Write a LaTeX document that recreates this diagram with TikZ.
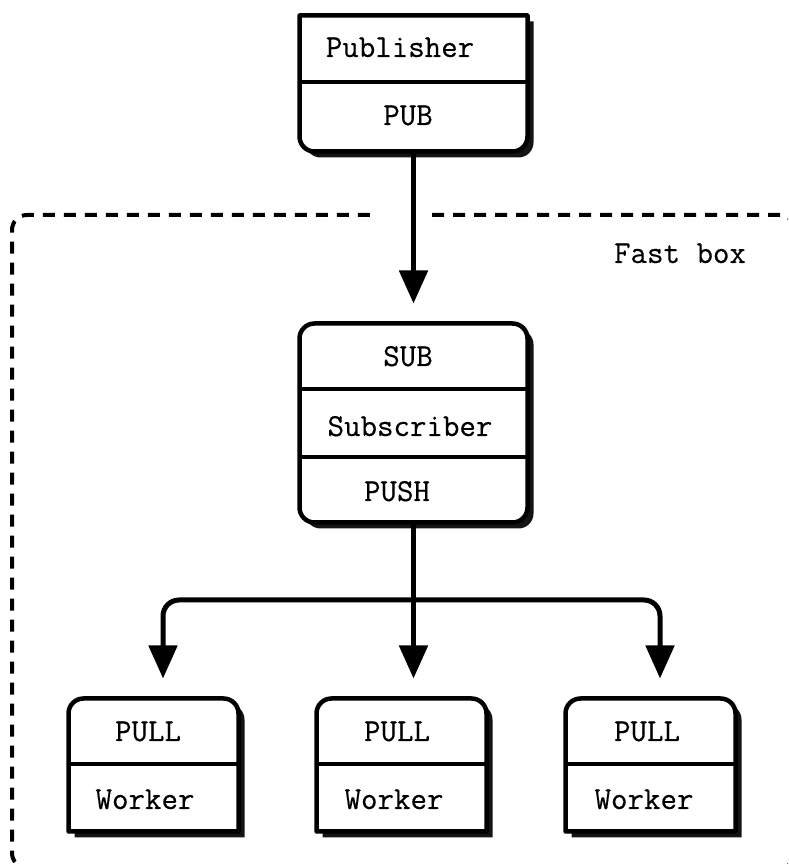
\documentclass[tikz,border=0pt]{standalone}
\usepackage{fontspec}
\newfontfamily\diagmono[FakeBold=0.4]{Latin Modern Mono}
\usetikzlibrary{arrows.meta,calc}
\tikzset{
  boxn/.style={inner sep=0pt, outer sep=0pt, draw=none},
  lbl/.style={anchor=base, inner sep=0pt, font=\fontsize{32}{38}\selectfont\diagmono},
  shadowc/.style={fill=black!92},
  boxc/.style={draw=black, fill=white, line width=4.5pt, line join=round},
  divl/.style={draw=black, line width=4pt},
  arr/.style={draw=black, line width=5pt, -{Triangle[length=33pt,width=28pt]}, shorten >=20pt},
  frame/.style={draw=black, line width=4pt, dash pattern=on 12pt off 9pt, rounded corners=15pt},
}
\newcommand\pubshape[4]{% #1 node, #2 dx, #3 dy, #4 style
  \path[#4] ([xshift=#2,yshift=#3]#1.north west) -- ([xshift=#2,yshift=#3]#1.north east)
    -- ([xshift=#2,yshift=#3+15pt]#1.south east) arc[start angle=0,end angle=-90,radius=15pt]
    -- ([xshift=#2+15pt,yshift=#3]#1.south west) arc[start angle=270,end angle=180,radius=15pt]
    -- cycle;}
\newcommand\workshape[4]{%
  \path[#4] ([xshift=#2,yshift=#3]#1.south west) -- ([xshift=#2,yshift=#3-15pt]#1.north west)
    arc[start angle=180,end angle=90,radius=15pt]
    -- ([xshift=#2-15pt,yshift=#3]#1.north east) arc[start angle=90,end angle=0,radius=15pt]
    -- ([xshift=#2,yshift=#3]#1.south east) -- cycle;}
\newcommand\subshape[4]{%
  \path[#4, rounded corners=15pt] ([xshift=#2,yshift=#3]#1.north west) rectangle ([xshift=#2,yshift=#3]#1.south east);}
\begin{document}
\begin{tikzpicture}[x=1pt,y=1pt]
\fill[white] (0,0) rectangle (788,864);
\useasboundingbox (0,0) rectangle (788,864);

% dashed frame
\begin{scope}
\clip (0,0) rectangle (788,864);
\path[frame] (432,649) -- (795,649) -- (795,-4) -- (12,-4) -- (12,649) -- (376,649);
\end{scope}

% box nodes
\node[boxn, minimum width=228pt, minimum height=136pt] (pub) at (413.5,780.5) {};
\node[boxn, minimum width=228pt, minimum height=199pt] (sub) at (413.5,441) {};
\node[boxn, minimum width=170pt, minimum height=133pt] (w1) at (153.5,99) {};
\node[boxn, minimum width=170pt, minimum height=133pt] (w2) at (401.5,99) {};
\node[boxn, minimum width=170pt, minimum height=133pt] (w3) at (650.5,99) {};

% shadows
\pubshape{pub}{6pt}{-6pt}{shadowc}
\subshape{sub}{6pt}{-6pt}{shadowc}
\workshape{w1}{6pt}{-6pt}{shadowc}
\workshape{w2}{6pt}{-6pt}{shadowc}
\workshape{w3}{6pt}{-6pt}{shadowc}

% boxes
\pubshape{pub}{0pt}{0pt}{boxc}
\subshape{sub}{0pt}{0pt}{boxc}
\workshape{w1}{0pt}{0pt}{boxc}
\workshape{w2}{0pt}{0pt}{boxc}
\workshape{w3}{0pt}{0pt}{boxc}

% dividers
\draw[divl] ([yshift=1.5pt]pub.west) -- ([yshift=1.5pt]pub.east);
\draw[divl] ([yshift=34pt]sub.west) -- ([yshift=34pt]sub.east);
\draw[divl] ([yshift=-34pt]sub.west) -- ([yshift=-34pt]sub.east);
\draw[divl] ([yshift=1pt]w1.west) -- ([yshift=1pt]w1.east);
\draw[divl] ([yshift=1pt]w2.west) -- ([yshift=1pt]w2.east);
\draw[divl] ([yshift=1pt]w3.west) -- ([yshift=1pt]w3.east);

% labels
\node[lbl] (tpub) at (400,807) {Publisher};
\node[lbl] (tpubs) at (408,739) {PUB};
\node[lbl] (tsub) at (408,498) {SUB};
\node[lbl] (tsubr) at (410,428) {Subscriber};
\node[lbl] (tpush) at (397,363) {PUSH};
\node[lbl] (tpull1) at (148,123) {PULL};
\node[lbl] (twk1) at (145,55) {Worker};
\node[lbl] (tpull2) at (397,123) {PULL};
\node[lbl] (twk2) at (394,55) {Worker};
\node[lbl] (tpull3) at (647,123) {PULL};
\node[lbl] (twk3) at (644,55) {Worker};
\node[lbl] (tfast) at (680,601) {Fast box};

% connectors
\coordinate (split) at (413.5,264);
\draw[arr] (pub.south) -- (sub.north);
\draw[arr] (sub.south) -- (sub.south |- w2.north);
\draw[arr, rounded corners=16pt] (split) -| ([xshift=9.5pt]w1.north);
\draw[arr, rounded corners=16pt] (split) -| ([xshift=9.5pt]w3.north);
\end{tikzpicture}
\end{document}
